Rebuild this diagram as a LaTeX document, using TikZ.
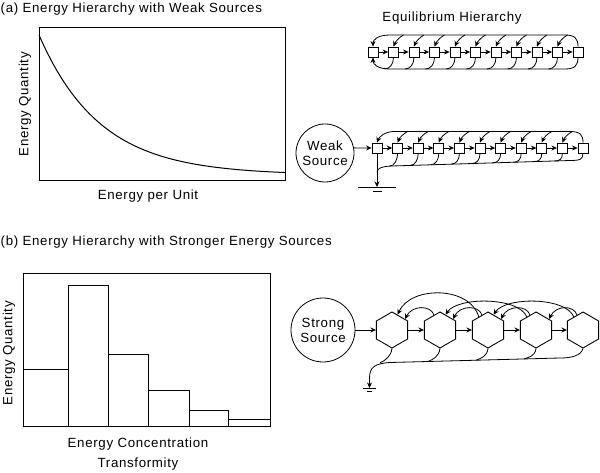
\documentclass[tikz,border=0pt]{standalone}
\usepackage{fontspec}
\setmainfont[LetterSpace=5]{Liberation Sans}
\usetikzlibrary{arrows.meta,shapes.geometric}

\begin{document}
\begin{tikzpicture}[x=1pt, y=-1pt,
  every node/.style={font=\fontsize{13.3}{15}\selectfont, inner sep=0pt},
  axisbox/.style={draw, line width=1pt},
  unitbox/.style={rectangle, draw, line width=0.8pt, minimum size=10pt, inner sep=0pt},
  hexunit/.style={regular polygon, regular polygon sides=6, shape border rotate=30,
    draw, line width=0.9pt, minimum size=36pt, inner sep=0pt},
  source/.style={circle, draw, line width=0.8pt, align=center, inner sep=0pt},
  flow/.style={-{Stealth[length=5.5pt,width=5pt]}, line width=0.8pt},
  wire/.style={line width=0.8pt},
]
\useasboundingbox (0,0) rectangle (600,473);

% (a) weak sources: spectrum
\node[anchor=base west] (tta) at (0.5,12.5) {(a) Energy Hierarchy with Weak Sources};
\draw[axisbox] (39,28) rectangle (285,181);
\draw[line width=1pt] plot[domain=39:285, samples=80, smooth] (\x, {175-140*exp(-(\x-39)/61)});
\node[rotate=90] (yla) at (25,104) {Energy Quantity};
\node[anchor=base] (xla) at (148,200) {Energy per Unit};

% equilibrium chain
\node[anchor=base] (teq) at (452,22) {Equilibrium Hierarchy};
\foreach \i in {1,...,11}
  \node[unitbox] (e\i) at ({373+20.5*(\i-1)},52) {};
\foreach \i [count=\j from 2] in {1,...,10}
  \draw[flow] (e\i) -- (e\j);
\draw[flow] (e11.north) .. controls +(0,-8) and +(10,0) .. (565,35) -- (390,35)
  .. controls (377,35) and (373,40) .. (e1.north);
\draw[flow] (e11.south) .. controls +(0,8) and +(10,0) .. (565,69) -- (390,69)
  .. controls (377,69) and (373,64) .. (e1.south);
\foreach \i in {2,...,10} {
  \coordinate (et\i) at ({373+20.5*(\i-1)+10},35);
  \coordinate (eb\i) at ({373+20.5*(\i-1)-9},69);
  \draw[flow] (et\i) .. controls +(-4,2) and +(2,-5) .. (e\i.north);
  \draw[wire] (e\i.south) .. controls +(0,7) and +(5,0) .. (eb\i);
}

% weak source chain
\node[source, minimum size=58pt] (ws) at (325,153) {Weak\\Source};
\foreach \i in {1,...,11}
  \node[unitbox] (w\i) at ({377+20.6*(\i-1)},148) {};
\draw[flow] (ws.10) -- (w1);
\foreach \i [count=\j from 2] in {1,...,10}
  \draw[flow] (w\i) -- (w\j);
\coordinate (wg) at (377,187);
\coordinate (wj) at (377,172);
\draw[flow] (w1.south) -- (wg);
\draw[wire] ([xshift=-19pt]wg) -- ([xshift=19pt]wg);
\draw[wire] ([xshift=-4.5pt,yshift=-4pt]wg) -- ([xshift=4.5pt,yshift=-4pt]wg);
\draw[flow] (w11.north) .. controls +(0,-8) and +(10,0) .. (570,131.5) -- (394,131.5)
  .. controls (385,131.5) and (379,137) .. (w1.north);
\draw[wire] (w11.south) .. controls +(0,6) and +(10,0) .. (570,160.5) -- (392,166)
  .. controls (383,166.3) and (377,168) .. (wj);
\foreach \i in {2,...,10} {
  \pgfmathsetmacro\bx{377+20.6*(\i-1)-8}
  \pgfmathsetmacro\by{160.5+(570-\bx)*5.5/178}
  \coordinate (wt\i) at ({377+20.6*(\i-1)+10},131.5);
  \coordinate (wb\i) at (\bx,\by);
  \draw[flow] (wt\i) .. controls +(-4,2) and +(2,-5) .. (w\i.north);
  \draw[wire] (w\i.south) .. controls +(0,6) and +(5,0) .. (wb\i);
}

% (b) stronger sources: histogram
\node[anchor=base west] (ttb) at (0.5,246) {(b) Energy Hierarchy with Stronger Energy Sources};
\draw[axisbox] (23,274) rectangle (270,426);
\draw[wire] (23,369) -- (68,369);
\foreach \l/\r/\t in {68/108/285, 108/148/354, 148/189/390, 189/228/410, 228/270/419}
  \draw[wire] (\l,426) rectangle (\r,\t);
\node[rotate=90] (ylb) at (9,353) {Energy Quantity};
\node[anchor=base] (xlb) at (138,447) {Energy Concentration};
\node[anchor=base] (xlc) at (138,467) {Transformity};

% strong source chain
\node[source, minimum size=64pt] (ss) at (323,330) {Strong\\Source};
\foreach \i/\x in {1/392, 2/440, 3/488, 4/536, 5/583}
  \node[hexunit] (h\i) at (\x,330) {};
\draw[flow] (ss) -- (h1);
\foreach \i [count=\j from 2] in {1,...,4} {
  \draw[flow] (h\i) -- (h\j);
  \draw[flow] (h\j.112) .. controls +(-3,-10) and +(7,-14) .. (h\i.40);
}
\draw[flow] (h3.125) .. controls +(-9,-31) and +(13,-29) .. (h1.70);
\draw[flow] (h4.125) .. controls +(-8,-20) and +(12,-18) .. (h2.70);
\draw[flow] (h5.125) .. controls +(-8,-20) and +(12,-18) .. (h3.70);
\coordinate (sg) at (369.5,388);
\draw[flow] (h5.270) .. controls +(-2,7) and +(12,0) .. (560,358) -- (390,362.5)
  .. controls (375,363.5) and (369.5,367) .. (369.5,378) -- (sg);
\draw[wire] ([xshift=-6.5pt]sg) -- ([xshift=6.5pt]sg);
\draw[wire] ([xshift=-2.5pt,yshift=-3pt]sg) -- ([xshift=2.5pt,yshift=-3pt]sg);
\foreach \i/\x in {1/392, 2/440, 3/488, 4/536} {
  \pgfmathsetmacro\by{358+(560-(\x-12))*4.5/170}
  \coordinate (m\i) at (\x-12,\by);
  \draw[wire] (h\i.270) .. controls +(-1,8) and +(5,-2) .. (m\i);
}
\end{tikzpicture}
\end{document}
